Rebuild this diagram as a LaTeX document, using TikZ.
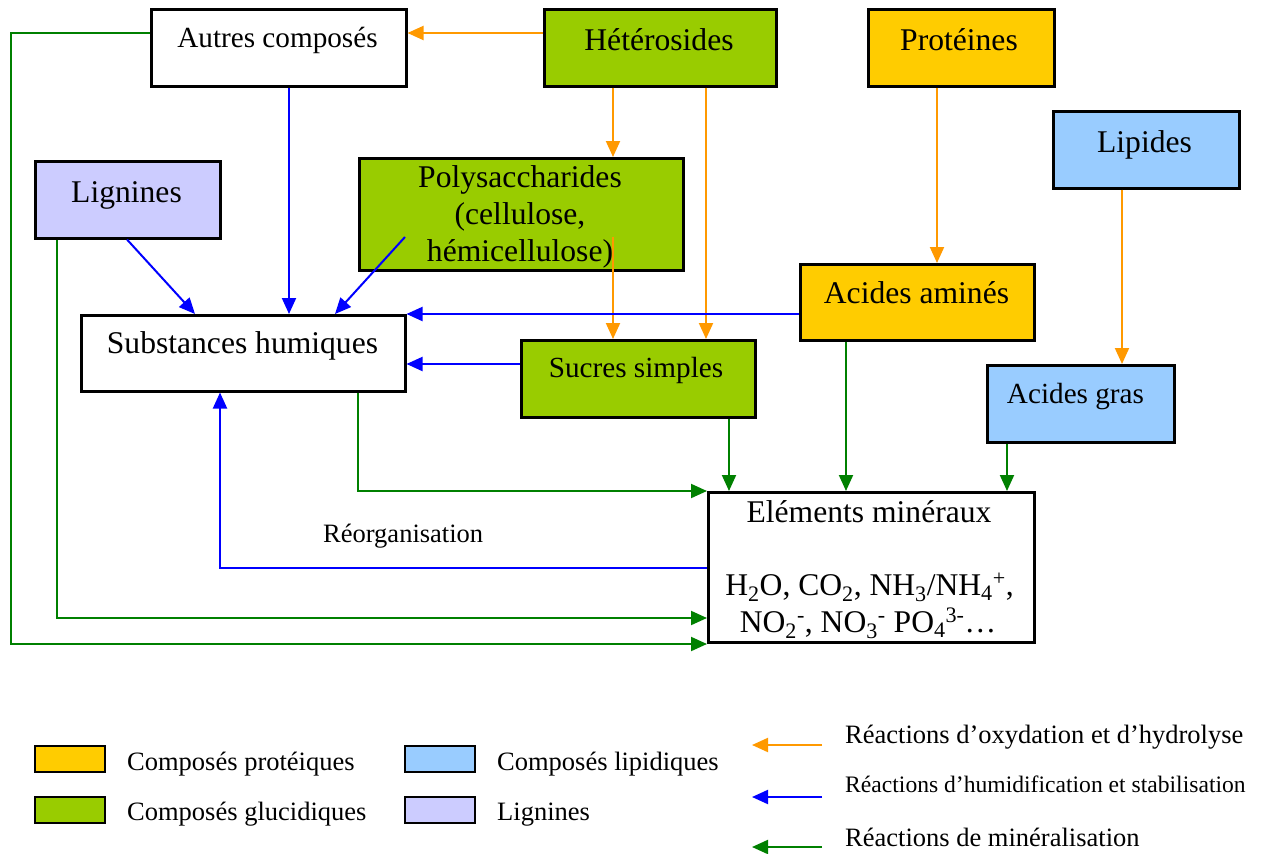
\documentclass[tikz,border=0pt]{standalone}
\usepackage{fontspec}
\setmainfont{Liberation Serif}
\usetikzlibrary{arrows.meta}
\definecolor{orangeline}{HTML}{FF9900}
\definecolor{blueline}{HTML}{0000FF}
\definecolor{greenline}{HTML}{008000}
\definecolor{fprot}{HTML}{FFCC00}
\definecolor{fgluc}{HTML}{99CC00}
\definecolor{flip}{HTML}{99CCFF}
\definecolor{flig}{HTML}{CCCCFF}
\begin{document}
\begin{tikzpicture}[x=1pt,y=-1pt,
  boxnode/.style={draw=black,line width=2.5pt,inner sep=0pt,anchor=north west},
  big/.style={font=\fontsize{31.6}{37}\selectfont,inner sep=0pt},
  mid/.style={font=\fontsize{29.2}{34}\selectfont,inner sep=0pt},
  small/.style={font=\fontsize{26.5}{31}\selectfont,inner sep=0pt},
  tiny/.style={font=\fontsize{23.6}{28}\selectfont,inner sep=0pt},
  conn/.style={line width=2pt,-{Triangle[length=16pt,width=14pt]}},
  oa/.style={conn,draw=orangeline},
  ba/.style={conn,draw=blueline},
  ga/.style={conn,draw=greenline},
  swatch/.style={draw=black,line width=2pt,minimum width=70pt,minimum height=26pt,inner sep=0pt,anchor=north west}
]
\useasboundingbox (0,0) rectangle (1267,854);

% boxes
\node[boxnode,minimum width=255pt,minimum height=77pt] (autres) at (150,8) {};
\node[boxnode,fill=fgluc,minimum width=232pt,minimum height=77pt] (het) at (543,8) {};
\node[boxnode,fill=fprot,minimum width=186pt,minimum height=77pt] (prot) at (867,8) {};
\node[boxnode,fill=flip,minimum width=186pt,minimum height=77pt] (lip) at (1052,110) {};
\node[boxnode,fill=flig,minimum width=185pt,minimum height=77pt] (lig) at (34,160) {};
\node[boxnode,fill=fgluc,minimum width=324pt,minimum height=112pt] (poly) at (358,157) {};
\node[boxnode,minimum width=324pt,minimum height=76pt] (sh) at (80,314) {};
\node[boxnode,fill=fprot,minimum width=234pt,minimum height=76pt] (amin) at (799,263) {};
\node[boxnode,fill=fgluc,minimum width=234pt,minimum height=77pt] (sucres) at (520,339) {};
\node[boxnode,fill=flip,minimum width=187pt,minimum height=77pt] (gras) at (986,364) {};
\node[boxnode,minimum width=326pt,minimum height=150pt] (em) at (707,491) {};

% box texts
\node[mid,anchor=base] (tautres) at (277.5,47) {Autres composés};
\node[big,anchor=base] (thet) at (659,50) {Hétérosides};
\node[big,anchor=base] (tprot) at (959,50) {Protéines};
\node[big,anchor=base] (tlip) at (1144.5,152) {Lipides};
\node[big,anchor=base] (tlig) at (126.5,202) {Lignines};
\node[big,anchor=base] (tpoly1) at (520,187) {Polysaccharides};
\node[big,anchor=base] (tpoly2) at (520,224) {(cellulose,};
\node[big,anchor=base] (tpoly3) at (520,261) {hémicellulose)};
\node[big,anchor=base] (tsh) at (242.5,353) {Substances humiques};
\node[big,anchor=base] (tamin) at (916.5,303) {Acides aminés};
\node[mid,anchor=base] (tsucres) at (636,377) {Sucres simples};
\node[mid,anchor=base] (tgras) at (1075.5,403) {Acides gras};
\node[big,anchor=base] (tem1) at (869,522) {Eléments minéraux};
\node[big,anchor=base] (tem2) at (869.5,595) {H\textsubscript{2}O, CO\textsubscript{2}, NH\textsubscript{3}/NH\textsubscript{4}\textsuperscript{+},};
\node[big,anchor=base] (tem3) at (868,632) {NO\textsubscript{2}\textsuperscript{-}, NO\textsubscript{3}\textsuperscript{-} PO\textsubscript{4}\textsuperscript{3-}…};
\node[small,anchor=base west] (treorg) at (323,542) {Réorganisation};

% orange connectors
\coordinate (polyin) at (613,237);
\draw[oa] (het.west |- 0,33) -- (autres.east |- 0,33);
\draw[oa] (het.south -| 613,0) -- (poly.north -| 613,0);
\draw[oa] (polyin) -- (sucres.north -| 613,0);
\draw[oa] (het.south -| 706,0) -- (sucres.north -| 706,0);
\draw[oa] (prot.south -| 937,0) -- (amin.north -| 937,0);
\draw[oa] (lip.south -| 1122,0) -- (gras.north -| 1122,0);

% blue connectors
\coordinate (polyout) at (405,237);
\draw[ba] (autres.south -| 289,0) -- (sh.north -| 289,0);
\draw[ba] (lig.south -| 127,0) -- (sh.north -| 195,0);
\draw[ba] (polyout) -- (sh.north -| 335,0);
\draw[ba] (amin.west |- 0,314) -- (sh.east |- 0,314);
\draw[ba] (sucres.west |- 0,364) -- (sh.east |- 0,364);
\draw[ba] (em.west |- 0,568) -| (sh.south -| 220,0);

% green connectors
\coordinate (outer) at (11,644);
\draw[ga] (sh.south -| 358,0) |- (em.west |- 0,491);
\draw[ga] (sucres.south -| 729,0) -- (em.north -| 729,0);
\draw[ga] (amin.south -| 846,0) -- (em.north -| 846,0);
\draw[ga] (gras.south -| 1007,0) -- (em.north -| 1007,0);
\draw[ga] (lig.south -| 57,0) |- (em.west |- 0,618);
\draw[ga] (autres.west |- 0,33) -| (outer) -- (em.west |- 0,644);

% legend swatches
\node[swatch,fill=fprot] (sw1) at (34,745) {};
\node[swatch,fill=fgluc] (sw2) at (34,796) {};
\node[swatch,fill=flip] (sw3) at (404,745) {};
\node[swatch,fill=flig] (sw4) at (404,796) {};
\node[small,anchor=base west] (lg1) at (127,770) {Composés protéiques};
\node[small,anchor=base west] (lg2) at (127,820) {Composés glucidiques};
\node[small,anchor=base west] (lg3) at (497,770) {Composés lipidiques};
\node[small,anchor=base west] (lg4) at (497,820) {Lignines};

% legend arrows
\coordinate (la1s) at (822,745);
\coordinate (la1e) at (752,745);
\coordinate (la2s) at (822,797);
\coordinate (la2e) at (752,797);
\coordinate (la3s) at (822,847);
\coordinate (la3e) at (752,847);
\draw[oa] (la1s) -- (la1e);
\draw[ba] (la2s) -- (la2e);
\draw[ga] (la3s) -- (la3e);
\node[small,anchor=base west] (lr1) at (845,743) {Réactions d’oxydation et d’hydrolyse};
\node[tiny,anchor=base west] (lr2) at (845,792) {Réactions d’humidification et stabilisation};
\node[small,anchor=base west] (lr3) at (845,846) {Réactions de minéralisation};
\end{tikzpicture}
\end{document}
